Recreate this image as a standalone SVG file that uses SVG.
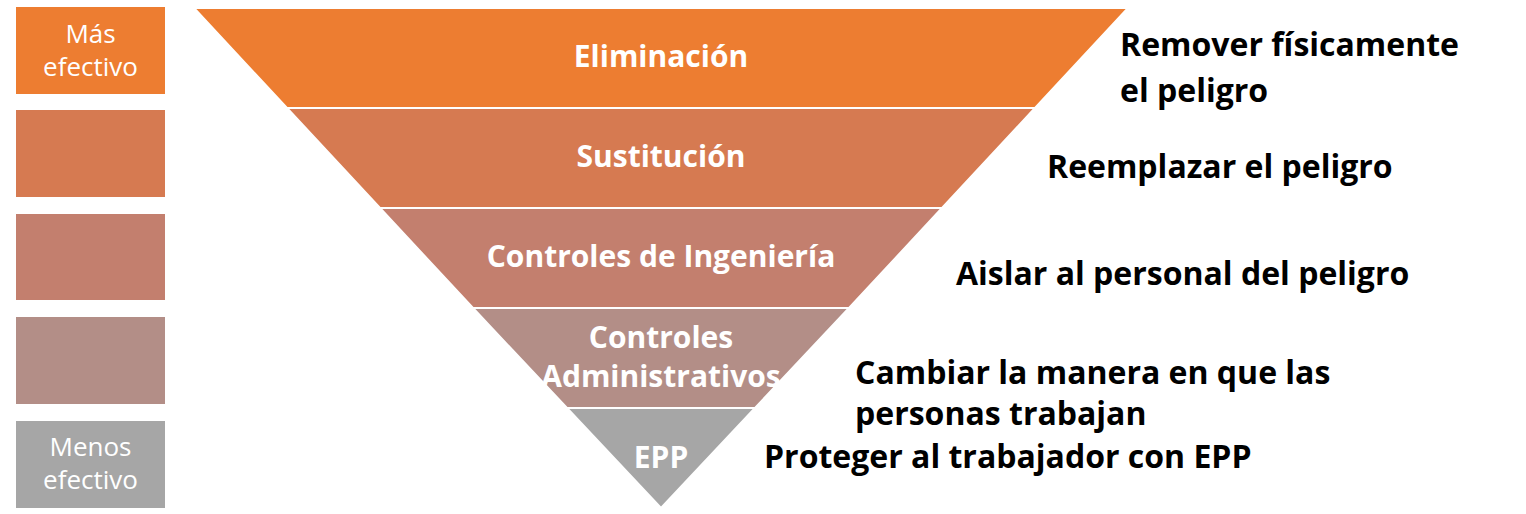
<svg xmlns="http://www.w3.org/2000/svg" width="1526" height="514" viewBox="0 0 1526 514">
<style>
.lvl{stroke:#ffffff;stroke-width:2}
.in{font-family:"Open Sans","Liberation Sans",sans-serif;font-weight:bold;font-size:30px;fill:#ffffff;text-anchor:middle}
.box{font-family:"Open Sans","Liberation Sans",sans-serif;font-size:26px;fill:#ffffff;text-anchor:middle}
.rt{font-family:"Open Sans","Liberation Sans",sans-serif;font-weight:bold;font-size:32px;fill:#000000}
</style>
<rect width="1526" height="514" fill="#ffffff"/>
<g id="legend">
<g id="box1"><rect x="16" y="7" width="149" height="87" fill="#ED7D31"/><text class="box" x="90.5" y="43">Más</text><text class="box" x="90.5" y="76">efectivo</text></g>
<g id="box2"><rect x="16" y="110" width="149" height="87" fill="#D67A51"/></g>
<g id="box3"><rect x="16" y="214" width="149" height="86" fill="#C37F6E"/></g>
<g id="box4"><rect x="16" y="317" width="149" height="87" fill="#B38E87"/></g>
<g id="box5"><rect x="16" y="421" width="149" height="87" fill="#A6A6A6"/><text class="box" x="90.5" y="456">Menos</text><text class="box" x="90.5" y="489">efectivo</text></g>
</g>
<g id="pyramid">
<g id="eliminacion"><polygon class="lvl" points="194,8 1128,8 1035,108 287,108" fill="#ED7D31"/><text class="in" x="661" y="67">Eliminación</text></g>
<g id="sustitucion"><polygon class="lvl" points="287,108 1035,108 942,208 380,208" fill="#D67A51"/><text class="in" x="661" y="167">Sustitución</text></g>
<g id="ingenieria"><polygon class="lvl" points="380,208 942,208 849,308 473,308" fill="#C37F6E"/><text class="in" x="661" y="267">Controles de Ingeniería</text></g>
<g id="administrativos"><polygon class="lvl" points="473,308 849,308 755,408 567,408" fill="#B38E87"/><text class="in" x="661" y="348">Controles</text><text class="in" x="661" y="387">Administrativos</text></g>
<g id="epp"><polygon class="lvl" points="567,408 755,408 661,508" fill="#A6A6A6"/><text class="in" x="661" y="468">EPP</text></g>
</g>
<g id="descriptions">
<text class="rt" x="1120" y="56">Remover físicamente</text>
<text class="rt" x="1120" y="102">el peligro</text>
<text class="rt" x="1047" y="178">Reemplazar el peligro</text>
<text class="rt" x="956" y="285">Aislar al personal del peligro</text>
<text class="rt" x="855" y="384">Cambiar la manera en que las</text>
<text class="rt" x="855" y="425">personas trabajan</text>
<text class="rt" x="764" y="468">Proteger al trabajador con EPP</text>
</g>
</svg>
